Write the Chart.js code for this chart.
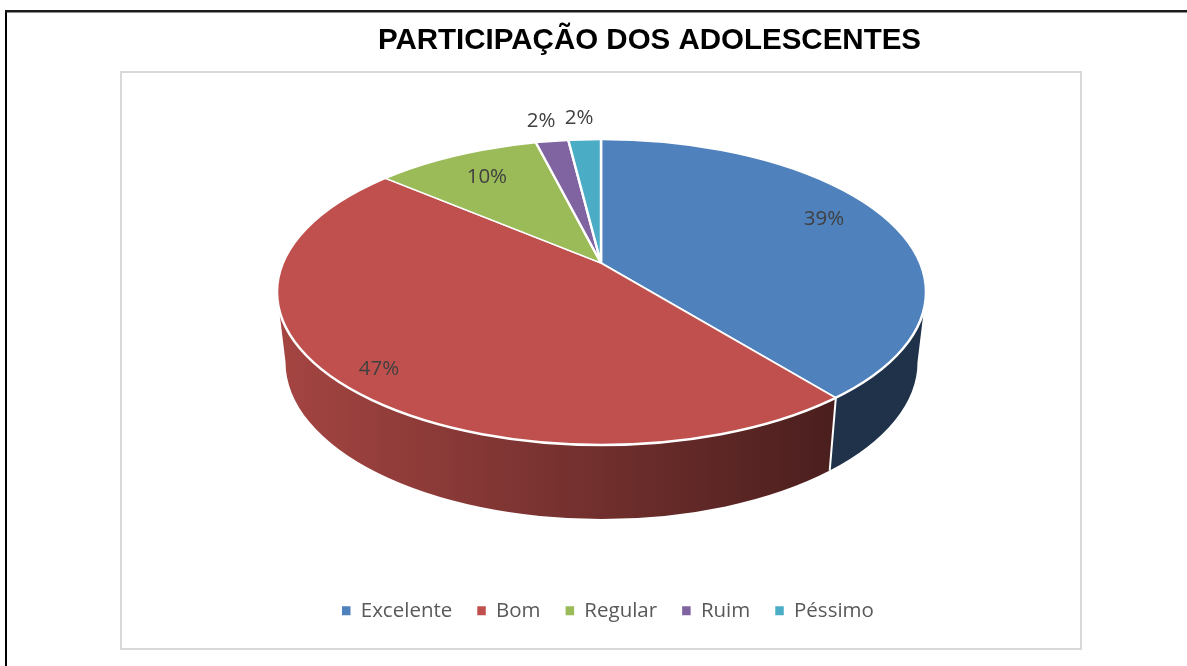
<!DOCTYPE html>
<html>
<head>
<meta charset="utf-8">
<style>html,body{margin:0;padding:0;background:#fff;overflow:hidden}canvas{display:block}</style>
<script src="https://cdn.jsdelivr.net/npm/chart.js@4"></script>
</head>
<body>
<div style="width:1187px;height:666px"><canvas id="c" width="1187" height="666"></canvas></div>
<script>
const titleText = 'PARTICIPAÇÃO DOS ADOLESCENTES';
const categories = ['Excelente', 'Bom', 'Regular', 'Ruim', 'Péssimo'];
const seriesValues = [39, 47, 10, 2, 2];
const sliceColors = ['#4f81bd', '#c0504d', '#9bbb59', '#8064a2', '#4bacc6'];

// Projection of the tilted pie on the page
const apex = {x: 601, y: 263};
const tilt = 0.475;
const top3d = {x: 601.5, y: 292, rx: 324.5, ry: 153};
const bottom3d = {x: 601.5, y: 362, rx: 316, ry: 157};
const labelRadiusX = [237, 314, 213, 320, 350];
const labelRadiusY = [280, 312, 217, 307, 308];

function hexRgb(h){return [1,3,5].map(i=>parseInt(h.substr(i,2),16));}
function shaded(hex,f){return 'rgb('+hexRgb(hex).map(v=>Math.round(v*f)).join(',')+')';}

// ellipse parameter at which the ray from the apex at chart angle a leaves the top face
function rimParam(a){
  const dx=Math.cos(a), dy=Math.sin(a)*tilt;
  const ox=(apex.x-top3d.x)/top3d.rx, oy=(apex.y-top3d.y)/top3d.ry;
  const ux=dx/top3d.rx, uy=dy/top3d.ry;
  const A=ux*ux+uy*uy, B=2*(ox*ux+oy*uy), C=ox*ox+oy*oy-1;
  const t=(-B+Math.sqrt(B*B-4*A*C))/(2*A);
  let p=Math.atan2(oy+t*uy,ox+t*ux);
  if(p<0)p+=Math.PI*2;
  return p;
}

const pie3d = {
  id:'pie3d',
  beforeDraw(chart){
    const c=chart.ctx;
    c.save();
    c.fillStyle='#fff';c.fillRect(0,0,1187,666);
    c.strokeStyle='#d9d9d9';c.lineWidth=2;c.strokeRect(121,72,960,577);
    c.fillStyle='#000';c.fillRect(5,10,2,656);
    c.fillStyle='#1c1c1c';c.fillRect(5,10,1182,2.5);
    c.restore();
  },
  beforeDatasetDraw(chart,args){
    const c=chart.ctx, arcs=chart.getDatasetMeta(args.index).data;
    // side wall
    arcs.forEach((arc,i)=>{
      let s=rimParam(arc.startAngle), e=rimParam(arc.endAngle);
      if(s>e) s=0;
      e=Math.min(e,Math.PI);
      if(s>=Math.PI||e<=s) return;
      const hex=sliceColors[i];
      const g=c.createLinearGradient(277,0,830,0);
      g.addColorStop(0,shaded(hex,0.86));
      g.addColorStop(1,shaded(hex,0.39));
      c.beginPath();
      c.ellipse(top3d.x,top3d.y,top3d.rx,top3d.ry,0,s,e,false);
      c.ellipse(bottom3d.x,bottom3d.y,bottom3d.rx,bottom3d.ry,0,e,s,true);
      c.closePath();
      c.fillStyle=g;c.fill();
      if(s>0){
        c.beginPath();
        c.moveTo(top3d.x+top3d.rx*Math.cos(s),top3d.y+top3d.ry*Math.sin(s));
        c.lineTo(bottom3d.x+bottom3d.rx*Math.cos(s),bottom3d.y+bottom3d.ry*Math.sin(s));
        c.strokeStyle='#fff';c.lineWidth=2;c.stroke();
      }
    });
    // top face: the library's arcs, tilted and cut to the rim
    const a0=arcs[0];
    c.save();
    c.beginPath();
    c.ellipse(top3d.x,top3d.y,top3d.rx,top3d.ry,0,0,Math.PI*2);
    c.clip();
    c.translate(apex.x,apex.y);
    c.scale(1,tilt);
    c.translate(-a0.x,-a0.y);
  },
  afterDatasetDraw(chart,args){
    const c=chart.ctx, arcs=chart.getDatasetMeta(args.index).data;
    c.restore();
    c.beginPath();
    c.ellipse(top3d.x,top3d.y,top3d.rx,top3d.ry,0,0,Math.PI*2);
    c.strokeStyle='#fff';c.lineWidth=2.5;c.stroke();
    const total=seriesValues.reduce((a,b)=>a+b,0);
    c.save();
    c.font='20.5px "Open Sans"';
    c.fillStyle='#404040';
    c.textAlign='center';c.textBaseline='middle';
    arcs.forEach((arc,i)=>{
      const m=(arc.startAngle+arc.endAngle)/2;
      const x=apex.x+labelRadiusX[i]*Math.cos(m);
      const y=apex.y+labelRadiusY[i]*tilt*Math.sin(m)+1.5;
      c.fillText(Math.round(seriesValues[i]/total*100)+'%',x,y);
    });
    c.restore();
  }
};

new Chart(document.getElementById('c'),{
  type:'pie',
  data:{labels:categories,datasets:[{
    data:seriesValues,
    backgroundColor:sliceColors,
    borderColor:'#ffffff',
    borderWidth:2.5,
    clip:false
  }]},
  plugins:[pie3d],
  options:{
    responsive:false,
    animation:false,
    events:[],
    radius:1200,
    layout:{padding:{left:317,right:205,top:23,bottom:35}},
    plugins:{
      tooltip:{enabled:false},
      title:{display:true,text:titleText,color:'#000',
        font:{family:'"Liberation Sans"',size:29.5,weight:'bold'},padding:{top:0,bottom:10}},
      legend:{position:'bottom',align:'start',
        labels:{boxWidth:8.5,boxHeight:9,padding:25,color:'#595959',
          font:{family:'"Open Sans"',size:20.5},
          generateLabels(chart){
            return Chart.overrides.pie.plugins.legend.labels.generateLabels(chart)
              .map(l=>Object.assign(l,{lineWidth:0}));
          }}}
    }
  }
});
</script>
</body>
</html>
